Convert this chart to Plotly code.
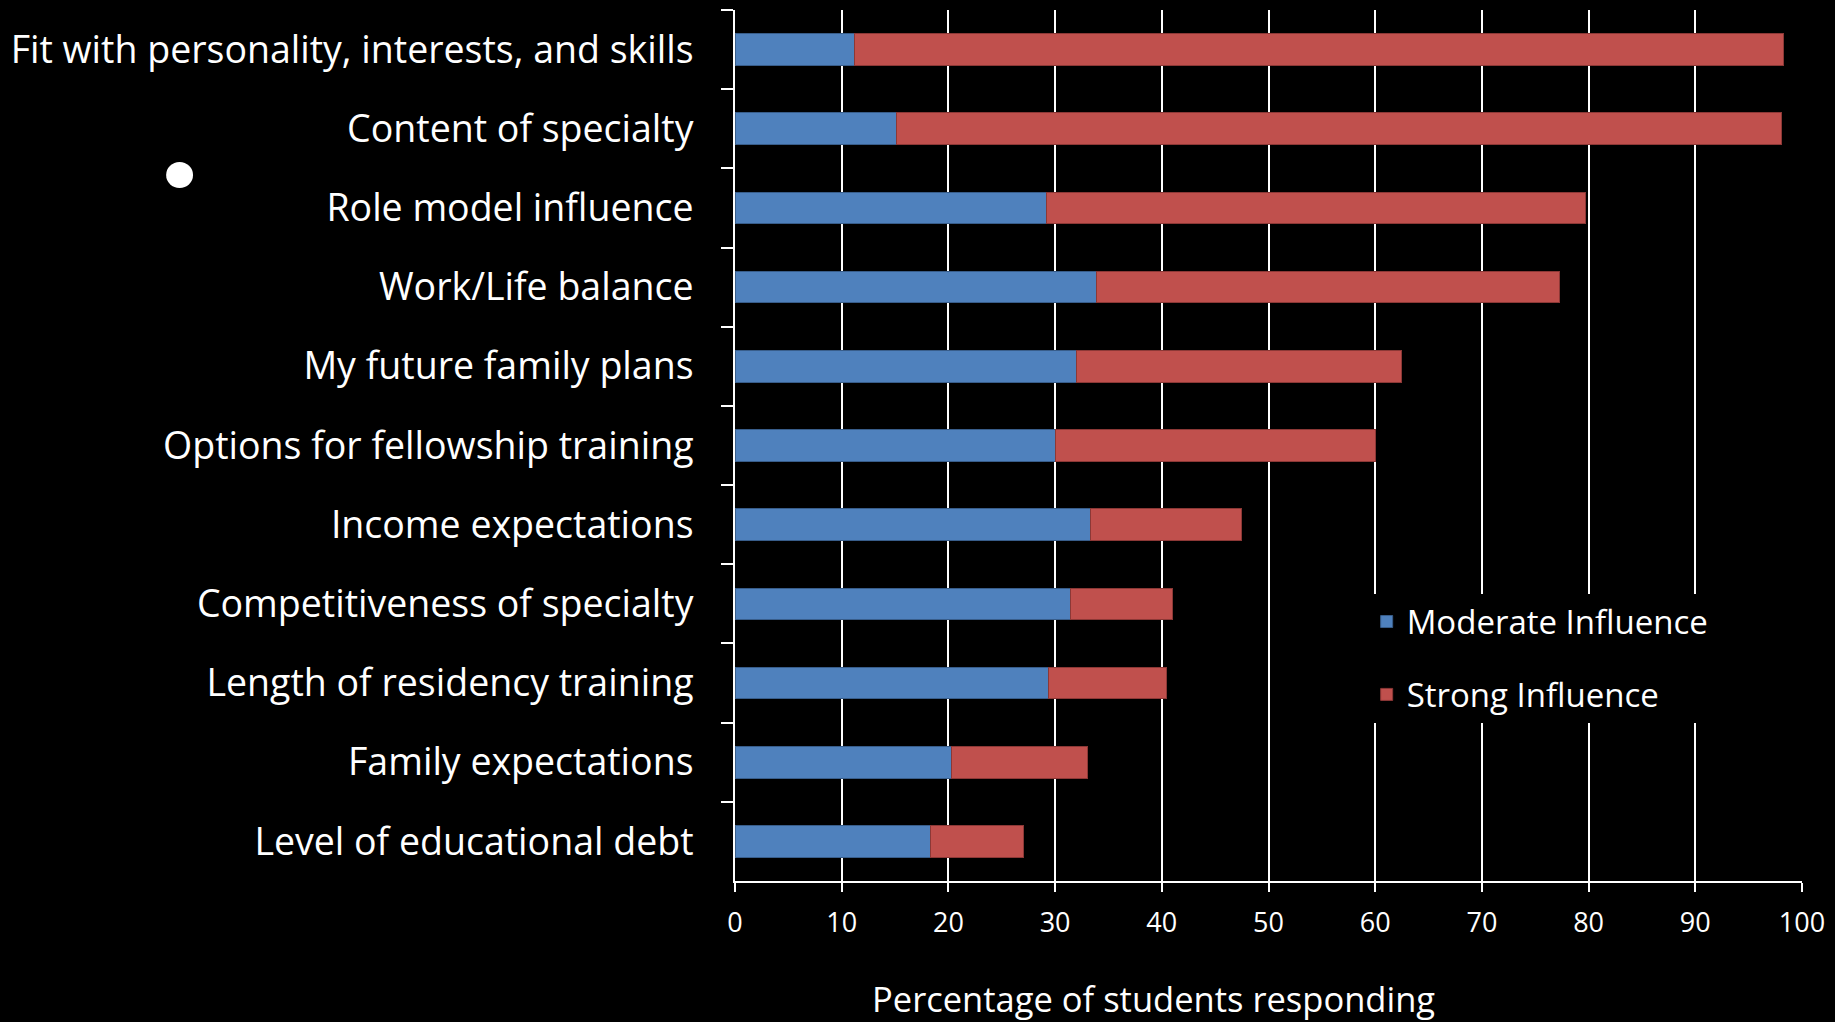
import plotly.graph_objects as go

categories = [
    "Fit with personality, interests, and skills",
    "Content of specialty",
    "Role model influence",
    "Work/Life balance",
    "My future family plans",
    "Options for fellowship training",
    "Income expectations",
    "Competitiveness of specialty",
    "Length of residency training",
    "Family expectations",
    "Level of educational debt",
]
moderate = [11.2, 15.1, 29.2, 33.9, 32.0, 30.0, 33.3, 31.4, 29.4, 20.3, 18.3]
strong = [87.1, 83.0, 50.5, 43.4, 30.5, 30.0, 14.2, 9.6, 11.0, 12.7, 8.7]
x_ticks = [0, 10, 20, 30, 40, 50, 60, 70, 80, 90, 100]

FONT = "Open Sans"

fig = go.Figure()
fig.add_trace(go.Bar(
    y=categories, x=moderate, orientation="h", name="Moderate Influence",
    marker=dict(color="#4F81BD", line=dict(color="#385D8A", width=1)),
    legendgroup="a",
))
fig.add_trace(go.Bar(
    y=categories, x=strong, orientation="h", name="Strong Influence",
    marker=dict(color="#C0504D", line=dict(color="#8C3836", width=1)),
    legendgroup="b",
))

fig.update_layout(
    width=1835, height=1022,
    barmode="stack", bargap=0.6,
    paper_bgcolor="black", plot_bgcolor="black",
    margin=dict(l=735, r=29, t=10, b=141),
    font=dict(family=FONT, color="white"),
    showlegend=True,
    legend=dict(
        x=0.592, y=0.330, xanchor="left", yanchor="top",
        bgcolor="black", font=dict(size=33, color="white", family=FONT),
        traceorder="grouped", tracegroupgap=27,
        borderwidth=0,
    ),
    xaxis=dict(
        range=[0, 100], tickvals=x_ticks, showgrid=True, gridcolor="white", gridwidth=1.5,
        showline=True, linecolor="white", linewidth=2,
        ticks="outside", ticklen=9, tickcolor="white", tickwidth=1.5,
        tickfont=dict(size=27, color="white", family=FONT),
        ticklabelstandoff=8,
        zeroline=False,
    ),
    yaxis=dict(
        autorange="reversed", showline=True, linecolor="white", linewidth=2,
        ticks="outside", tickson="boundaries", ticklen=12, tickcolor="white", tickwidth=2,
        tickfont=dict(size=37.5, color="white", family=FONT),
        ticklabelstandoff=32,
        showgrid=False,
    ),
    annotations=[dict(
        text="Percentage of students responding", xref="paper", yref="paper",
        x=(1155 - 735) / (1806 - 735), y=(881 - 998) / (881 - 10),
        xanchor="center", yanchor="middle", showarrow=False,
        font=dict(size=34.5, color="white", family=FONT),
    )],
    shapes=[dict(
        type="circle", xref="paper", yref="paper",
        x0=(164 - 735) / 1071, x1=(191 - 735) / 1071,
        y0=(881 - 188) / 871, y1=(881 - 162) / 871,
        fillcolor="white", line=dict(width=0),
    )],
)

fig.write_html("out.html")
